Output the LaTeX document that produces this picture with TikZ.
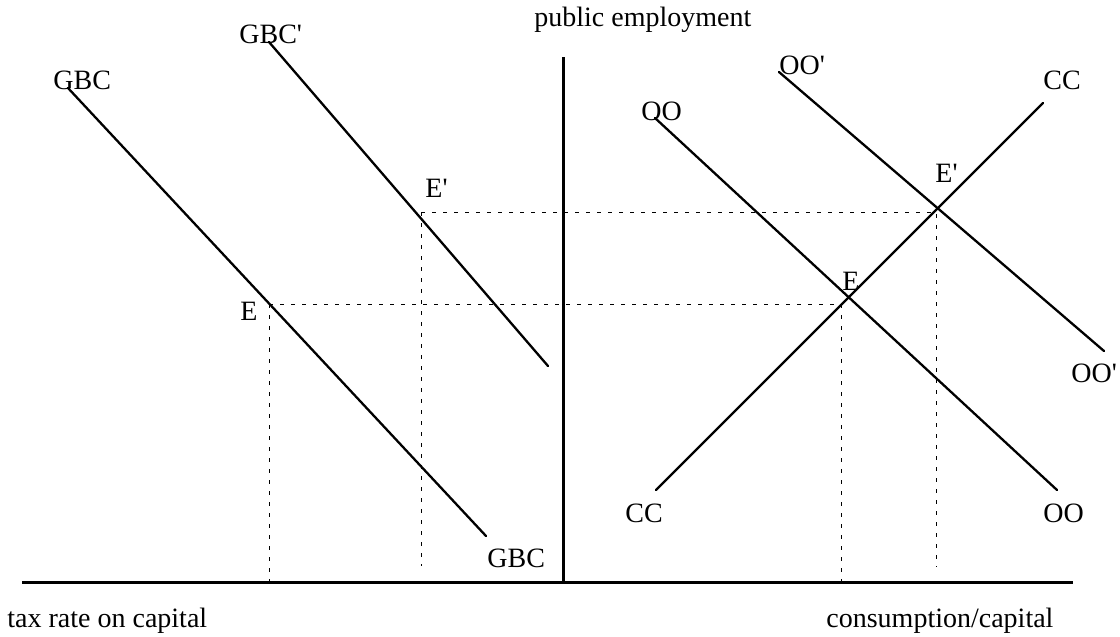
\documentclass[tikz,border=0pt]{standalone}
\usepackage{fontspec}
\setmainfont{Liberation Serif}
\newcommand{\pr}{\textquotesingle}
\begin{document}
\begin{tikzpicture}[x=0.5pt,y=-0.5pt,
  lab/.style={inner sep=0pt,anchor=base west,font=\fontsize{14}{16}\selectfont},
  curve/.style={line width=1.15pt,line cap=round},
  axisline/.style={line width=1.5pt},
  guide/.style={line width=0.5pt,dash pattern=on 2pt off 3.5pt}]
\useasboundingbox (0,0) rectangle (1120,637);
% axes
\coordinate (yt) at (563,57);
\coordinate (o) at (563,582);
\coordinate (xl) at (22,582);
\coordinate (xr) at (1073,582);
\draw[axisline] (yt) -- (o);
\draw[axisline] (xl) -- (xr);
% curve ends
\coordinate (g1a) at (68,88);   \coordinate (g1b) at (486,536);
\coordinate (g2a) at (269,42);  \coordinate (g2b) at (548,366);
\coordinate (o1a) at (655,118); \coordinate (o1b) at (1057,490);
\coordinate (o2a) at (779,72);  \coordinate (o2b) at (1104,351);
\coordinate (c1a) at (656,490); \coordinate (c1b) at (1043,103);
% guide corners
\coordinate (eL) at (269,304);
\coordinate (epL) at (421,212);
\coordinate (eR) at (841,304);
\coordinate (epR) at (936,212);
\coordinate (eLb) at (269,582);
\coordinate (epLb) at (421,566);
\coordinate (eRb) at (841,582);
\coordinate (epRb) at (936,567);
% guides
\draw[guide] (eL) -- (eR) -- (eRb);
\draw[guide] (eL) -- (eLb);
\draw[guide] (epL) -- (epR) -- (epRb);
\draw[guide] (epL) -- (epLb);
% curves
\draw[curve] (g1a) -- (g1b);
\draw[curve] (g2a) -- (g2b);
\draw[curve] (o1a) -- (o1b);
\draw[curve] (o2a) -- (o2b);
\draw[curve] (c1a) -- (c1b);
% labels
\node[lab] (lpe) at (534,26) {public employment};
\node[lab] (ltax) at (7,627) {tax rate on capital};
\node[lab] (lcons) at (826,627) {consumption/capital};
\node[lab] (lg1) at (53,89) {GBC};
\node[lab] (lg2) at (239,43) {GBC\pr};
\node[lab] (lg1b) at (487,567) {GBC};
\node[lab] (lepl) at (425,197) {E\pr};
\node[lab] (lel) at (240,320) {E};
\node[lab] (lo1) at (641,120) {OO};
\node[lab] (lo2) at (779,75) {OO\pr};
\node[lab] (lc1) at (1043,89) {CC};
\node[lab] (lepr) at (935,182) {E\pr};
\node[lab] (ler) at (842,290) {E};
\node[lab] (lo2b) at (1071,382) {OO\pr};
\node[lab] (lo1b) at (1043,522) {OO};
\node[lab] (lc1b) at (625,522) {CC};
\end{tikzpicture}
\end{document}
